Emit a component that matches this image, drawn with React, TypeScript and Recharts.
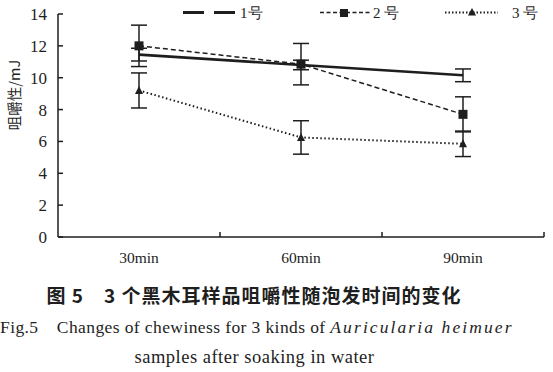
import { LineChart, Line, XAxis, YAxis, ErrorBar } from "recharts";

const times = ["30min", "60min", "90min"];
const sample1 = [11.45, 10.8, 10.15];
const sample1Err = [0.4, 0.3, 0.4];
const sample2 = [12.0, 10.85, 7.7];
const sample2Err = [1.3, 1.3, 1.1];
const sample3 = [9.2, 6.25, 5.85];
const sample3Err = [1.1, 1.05, 0.8];
const yTicks = [0, 2, 4, 6, 8, 10, 12, 14];

const data = times.map((t, i) => ({
  time: t,
  s1: sample1[i],
  e1: sample1Err[i],
  s2: sample2[i],
  e2: sample2Err[i],
  s3: sample3[i],
  e3: sample3Err[i],
}));

const INK = "#1e1e1e";
const SERIF = "'Liberation Serif', 'Times New Roman', serif";

function SquareDot(props: any) {
  const { cx, cy } = props;
  if (cx == null || cy == null) return null;
  return <rect x={cx - 4.5} y={cy - 4.5} width={9} height={9} fill={INK} />;
}

function TriangleDot(props: any) {
  const { cx, cy } = props;
  if (cx == null || cy == null) return null;
  return (
    <path d={`M${cx},${cy - 4.5} L${cx + 4},${cy + 3.5} L${cx - 4},${cy + 3.5} Z`} fill={INK} />
  );
}

function TimeTick(props: any) {
  const { x, y, payload } = props;
  const half = payload?.offset || 81;
  return (
    <g>
      <line x1={x + half} x2={x + half} y1={y} y2={y - 5} stroke={INK} strokeWidth={1.5} />
      <text x={x} y={y + 26} textAnchor="middle" fontFamily={SERIF} fontSize={15.5} fill={INK}>
        {payload.value}
      </text>
    </g>
  );
}

function YLabel() {
  return (
    <text
      x={13}
      y={95}
      transform="rotate(-90, 13, 95)"
      textAnchor="middle"
      dominantBaseline="central"
      fontFamily="'Noto Sans CJK SC', sans-serif"
      fontSize={14.5}
      fill={INK}
    >
      咀嚼性/mJ
    </text>
  );
}

function Legend() {
  return (
    <svg width={553} height={26} style={{ position: "absolute", left: 0, top: 0 }}>
      <line x1={183} x2={237} y1={12.5} y2={12.5} stroke={INK} strokeWidth={3} strokeDasharray="21 10" />
      <text x={240} y={18} fontFamily={SERIF} fontSize={15} fill={INK}>1号</text>
      <line x1={320} x2={370} y1={12.5} y2={12.5} stroke={INK} strokeWidth={1.5} strokeDasharray="4 2.5" />
      <rect x={340} y={9} width={8} height={8} fill={INK} />
      <text x={373} y={18} fontFamily={SERIF} fontSize={15} fill={INK}>2 号</text>
      <line x1={445} x2={498} y1={12.5} y2={12.5} stroke={INK} strokeWidth={2} strokeDasharray="1.5 2" />
      <path d="M472,8 L476,15.5 L468,15.5 Z" fill={INK} />
      <text x={512} y={18} fontFamily={SERIF} fontSize={15} fill={INK}>3 号</text>
    </svg>
  );
}

export default function App() {
  return (
    <div style={{ position: "absolute", left: 0, top: 0, width: 553, height: 372, background: "#fff" }}>
      <LineChart width={553} height={270} data={data} margin={{ top: 14, right: 9, left: 0, bottom: 0 }}>
        <XAxis
          dataKey="time"
          scale="band"
          height={33}
          axisLine={{ stroke: INK, strokeWidth: 1.5 }}
          tickLine={false}
          tickSize={0}
          tickMargin={0}
          tick={<TimeTick />}
          interval={0}
        />
        <YAxis
          width={58}
          domain={[0, 14]}
          ticks={yTicks}
          interval={0}
          axisLine={{ stroke: INK, strokeWidth: 1.5 }}
          tickLine={{ stroke: INK, strokeWidth: 1.5 }}
          tickSize={-5}
          tickMargin={16}
          tick={{ fontFamily: SERIF, fontSize: 17, fill: INK }}
          label={<YLabel />}
        />
        <Line
          dataKey="s1"
          stroke={INK}
          strokeWidth={2.6}
          dot={false}
          isAnimationActive={false}
        >
          <ErrorBar dataKey="e1" width={8} stroke={INK} strokeWidth={1.5} />
        </Line>
        <Line
          dataKey="s2"
          stroke={INK}
          strokeWidth={1.5}
          strokeDasharray="5 3"
          dot={<SquareDot />}
          isAnimationActive={false}
        >
          <ErrorBar dataKey="e2" width={8} stroke={INK} strokeWidth={1.5} />
        </Line>
        <Line
          dataKey="s3"
          stroke={INK}
          strokeWidth={2}
          strokeDasharray="1.5 2.5"
          dot={<TriangleDot />}
          isAnimationActive={false}
        >
          <ErrorBar dataKey="e3" width={8} stroke={INK} strokeWidth={1.5} />
        </Line>
      </LineChart>
      <Legend />
      <div
        style={{
          position: "absolute",
          left: 0,
          top: 281,
          width: 508,
          textAlign: "center",
          fontFamily: "'Noto Sans CJK SC', sans-serif",
          fontWeight: 700,
          fontSize: 19,
          letterSpacing: 1,
          color: INK,
          lineHeight: "28px",
          whiteSpace: "pre",
        }}
      >
        {"图 5　3 个黑木耳样品咀嚼性随泡发时间的变化"}
      </div>
      <div
        style={{
          position: "absolute",
          left: 0,
          top: 313,
          fontFamily: SERIF,
          fontSize: 17.5,
          letterSpacing: 0.4,
          color: INK,
          lineHeight: "28px",
          whiteSpace: "pre",
        }}
      >
        {"Fig.5　Changes of chewiness for 3 kinds of "}
        <i style={{ letterSpacing: 2.1 }}>Auricularia heimuer</i>
      </div>
      <div
        style={{
          position: "absolute",
          left: 0,
          top: 343,
          width: 509,
          textAlign: "center",
          fontFamily: SERIF,
          fontSize: 18.5,
          letterSpacing: 0.5,
          color: INK,
          lineHeight: "28px",
        }}
      >
        samples after soaking in water
      </div>
    </div>
  );
}
